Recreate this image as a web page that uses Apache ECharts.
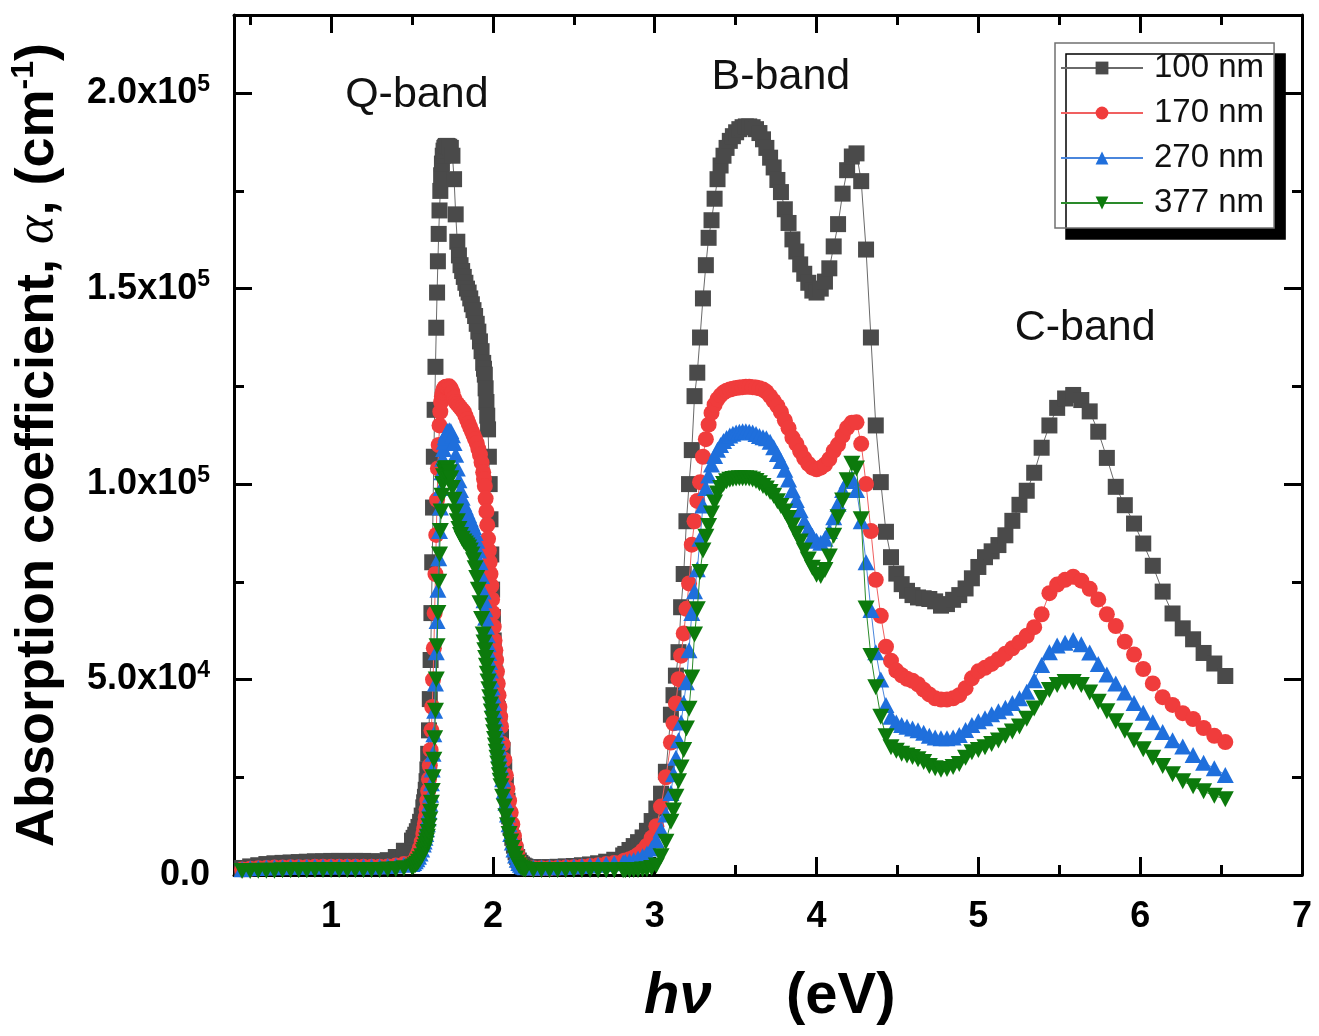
<!DOCTYPE html>
<html>
<head>
<meta charset="utf-8">
<script src="https://cdn.jsdelivr.net/npm/echarts@6/dist/echarts.min.js"></script>
<style>
  html, body { margin: 0; padding: 0; background: #fff; }
  #chart { width: 1319px; height: 1036px; }
</style>
</head>
<body>
<div id="chart"></div>
<script>
// Photon energy hν (eV), shared by all four films
const energy = [
  0.45,0.50,0.55,0.60,0.65,0.70,0.75,0.80,0.85,0.90,0.95,1.00,1.05,1.10,1.15,1.20,1.25,1.30,1.35,1.40,1.45,
  1.50,1.51,1.52,1.53,1.54,1.55,1.56,1.57,
  1.575,1.580,1.585,1.590,1.595,1.600,1.605,1.610,1.615,1.620,1.625,1.630,1.635,1.640,1.645,1.650,1.655,1.660,1.665,1.670,1.675,1.680,1.685,1.690,1.695,1.700,1.705,1.710,1.715,1.720,
  1.73,1.74,1.75,1.76,1.77,1.78,1.79,1.80,1.81,1.82,1.83,1.84,1.85,1.86,1.87,1.88,1.89,1.90,1.91,1.92,1.93,1.94,
  1.945,1.950,1.955,1.960,1.965,1.970,1.975,1.980,1.985,1.990,1.995,2.000,2.005,2.010,2.015,2.020,2.025,2.030,2.035,2.040,2.045,2.050,
  2.06,2.07,2.08,2.09,2.10,2.11,2.12,2.13,2.14,2.15,2.16,2.17,2.18,2.19,2.20,
  2.25,2.30,2.35,2.40,2.45,2.50,2.55,2.60,2.65,2.70,2.75,
  2.805,2.818,2.844,2.870,2.897,2.925,2.952,2.981,3.010,3.039,3.069,3.100,
  3.116,3.131,3.147,3.163,3.179,3.196,3.212,3.229,3.246,3.263,
  3.280,3.298,3.316,3.333,3.351,3.370,3.388,3.407,3.425,3.444,
  3.464,3.483,3.503,3.523,3.543,3.563,3.584,3.605,3.626,3.647,
  3.669,3.690,3.713,3.735,3.758,3.780,3.804,3.827,3.851,3.875,
  3.899,3.924,3.949,3.974,4.000,4.026,4.052,4.079,4.106,4.133,
  4.161,4.189,4.218,4.247,4.276,4.306,4.336,4.366,4.397,4.429,
  4.460,4.493,4.526,4.559,4.593,4.627,4.662,4.697,4.733,4.769,
  4.806,4.844,4.882,4.921,4.960,5.000,5.041,5.082,5.124,5.167,
  5.210,5.254,5.299,5.345,5.391,5.439,5.487,5.536,5.586,5.636,
  5.688,5.741,5.794,5.849,5.905,5.962,6.019,6.078,6.139,6.200,
  6.263,6.327,6.392,6.458,6.526
];

// Absorption coefficient, in units of 10^3 cm^-1
const alpha100 = [
  1.8,2.2,2.5,2.8,3.0,3.1,3.2,3.3,3.4,3.5,3.5,3.6,3.6,3.6,3.6,3.6,3.5,3.5,3.8,4.6,6.2,
  8.8,9.5,10.3,11.2,12.3,13.6,15.2,17.3,
  18.6,20,21.8,24,27,31,37,45,55,67,80,94,107,119,130,140,149,157,164,170,175,179,182,184,185.3,186,186.3,186.5,186.5,186.5,
  186.3,186,184,178,169,162,158.5,156,154.5,153,151.5,150,149,147.5,146,144.5,143,141,139,136.5,134,131,
  129.5,128,124.5,121,117.5,114,107,100,91,82,73,66,60,55.5,51.5,48,45,42.5,40.3,38.5,36.8,35.3,
  32,27.5,23,19,15,12,9.5,7.5,5.8,4.6,3.7,3.1,2.7,2.4,2.2,
  2.0,2.0,2.0,2.1,2.2,2.3,2.5,2.7,3.0,3.4,3.9,
  5.0,5.4,6.4,7.4,8.4,9.6,11.3,13.8,17,20.8,26.4,41,
  46,51,57,68.5,77,90.5,100,108.7,122.5,128.5,
  137.5,147.5,156,163,167.5,173,178,181.5,184,186,
  187.8,189,190,190.8,191.3,191.5,191.5,191.3,190.8,189.8,
  188.2,186,183.5,181,177.8,174.7,170.3,166.8,162.6,159.5,
  156.2,153.8,151.5,149.5,149,150,151.8,155.2,160.8,166.5,
  174.3,180.3,183.8,184.6,177.5,160,137.5,115,100.5,87.8,
  81.3,77.1,74.4,72.7,71.6,71,70.8,70.6,70,68.9,
  69.3,70.4,71.6,73.3,75.9,78.8,81.3,82.8,84.4,86.9,
  90.6,94.7,98.3,102.9,109.3,115,119.5,121.9,122.8,121.5,
  118.6,113.4,106.7,99.3,94.6,89.9,84.8,79.1,72.5,66.9,
  63.1,60.3,56.8,54.1,50.9
];

const alpha170 = [
  1.4,1.6,1.7,1.8,1.9,1.9,2.0,2.0,2.0,2.1,2.1,2.1,2.1,2.1,2.1,2.1,2.1,2.1,2.2,2.4,2.8,
  3.0,3.4,4.0,4.8,5.8,7.0,8.5,10.5,
  11.8,13.2,14.8,16.8,19,21.5,24.5,28,32,37,43,50,58,67,77,87,96,104,110,115,118.5,121,122.5,123.5,124.2,124.6,124.8,124.9,124.9,124.9,
  125,124.5,123.5,122,121,120.5,120,119.5,119,118.5,117.5,116.5,115.5,114.5,113.5,112.5,111.5,110.5,109,107.5,105.5,103,
  101.3,99.5,96.3,93,89.5,86,83,80,77,74,70.5,67,63.5,60,57.5,55,52,49,46,43,40.5,38,
  33.5,29.5,25.5,22,19,16,13,10,7.5,5.5,4,3,2.4,2.0,1.8,
  1.7,1.7,1.7,1.8,1.9,2.0,2.1,2.3,2.5,2.8,3.1,
  3.5,3.7,4.0,4.5,5.2,6.2,7.5,9.5,12.5,17.5,25,33.9,
  38.8,43.9,50.1,56.1,61.8,68.1,74.6,84.5,90.5,95.7,
  100.5,107,111.5,115.2,118.2,120.3,121.7,122.7,123.4,123.9,
  124.2,124.4,124.6,124.7,124.8,124.9,124.9,124.8,124.7,124.5,
  124.2,123.6,122.5,121.3,120,118.4,116.3,114.3,111.9,110.3,
  108.4,106.6,105.2,104.2,103.8,104.2,105.0,106.4,108.5,110.1,
  112.4,114.4,115.7,115.8,110.3,100,88,75.5,66.3,58.4,
  54.8,52.3,51.1,50.2,49.7,48.8,47.4,46.2,45.2,44.9,
  44.9,45.2,46.0,47.8,50.3,52.1,53.0,54.0,55.2,56.6,
  58.0,59.5,61.2,63.4,66.7,72.1,74.3,75.5,76.3,75.3,
  73.2,70.5,66.7,63.7,59.7,56.4,52.7,49.0,45.5,43.5,
  41.4,39.9,37.6,35.6,34.0
];

const alpha270 = [
  1.5,1.7,1.8,1.9,2.0,2.0,2.1,2.1,2.1,2.2,2.2,2.2,2.2,2.2,2.2,2.2,2.2,2.2,2.3,2.4,2.6,
  2.8,3.1,3.5,4.0,4.7,5.5,6.5,7.8,
  8.6,9.5,10.5,11.7,13,14.5,16.2,18.2,20.5,23.5,27,31,36,42,49,57,65,73,81,88,94,99,103,106.5,109,110.8,112,112.8,113.3,113.6,
  113.8,113.6,112.5,110.5,107.5,104,101,98.5,96.5,95,94,93,92,91,90,89,87.5,85.5,83,80,76.5,72.5,
  70.3,68,65.8,63.5,61.3,59,56.8,54.5,52.3,50,48,46,44,42,40,38,36.3,34.5,32.8,31,29.3,27.5,
  24.5,21.5,18.5,15.5,13,10.5,8.3,6.5,5.0,3.9,3.1,2.6,2.3,2.1,2.0,
  1.9,1.9,2.0,2.0,2.1,2.2,2.3,2.4,2.6,2.8,3.0,
  3.2,3.3,3.5,3.8,4.2,4.8,5.5,6.8,8.8,11.5,15.5,21,
  25.8,30,34.5,39,44,49.3,57.5,67,72.6,78.2,
  86,94.5,99,102.2,105,107.2,108.8,110,111,111.8,
  112.4,112.9,113.2,113.4,113.5,113.5,113.4,113.2,112.8,112.3,
  112,111.7,110.8,109.4,107.7,105.9,103.7,101.2,98.4,95.9,
  93.3,90.5,88.5,86.8,85.5,85,86,88,91.5,95,
  98.5,100.8,101.5,98.5,90.5,80,67.8,57,50,43.5,
  40.5,39,38.4,37.9,37.5,37,36.4,35.6,35.2,35,
  35,35.2,35.8,37.1,38.4,39.3,40.1,41.1,41.9,42.8,
  44,45.2,46.9,49.8,53.7,57,58.7,59.4,60.1,59,
  56.9,54,51.3,49,46.7,44,41.5,39.1,36.6,34.5,
  32.9,30.7,28.7,27.3,25.6
];

const alpha377 = [
  1.0,1.0,1.1,1.1,1.1,1.2,1.2,1.2,1.2,1.3,1.3,1.3,1.3,1.3,1.3,1.3,1.3,1.3,1.4,1.5,1.7,
  2.0,2.2,2.5,2.9,3.4,4.0,4.8,5.8,
  6.4,7.1,7.9,8.8,9.8,11,12.5,14.2,16.2,18.5,21.5,25,29.5,35,42,50,58.5,67,75,82,88,93,97,100,102,103.2,103.8,104,104,104,
  103,101.5,99,96,93,90.5,88.5,87,86,85.3,84.8,84.3,83.8,83,82,80.5,78.5,76,73,69.5,65.5,61.5,
  59.5,57.5,55.5,53.5,51.5,49.5,47.5,45.5,43.6,41.8,40,38.2,36.5,34.8,33.1,31.5,30,28.5,27,25.5,24.1,22.7,
  20,17.5,15,12.7,10.5,8.6,6.9,5.4,4.2,3.2,2.5,2.0,1.7,1.5,1.4,
  1.3,1.3,1.3,1.3,1.3,1.3,1.3,1.3,1.2,1.2,1.2,
  1.2,1.2,1.2,1.3,1.3,1.4,1.5,1.8,2.4,4.8,8.5,13.6,
  16.5,20,24,27.5,32,37.5,42.5,50.5,61.5,68,
  77.5,83,86.5,89.3,92.5,95.3,97.6,99,100,100.7,
  101.1,101.3,101.4,101.5,101.5,101.5,101.4,101.2,100.8,100.2,
  99.5,98.9,98.0,97,95.6,94.4,93,91.3,89.4,87.3,
  85.3,83,80.7,78.6,76.8,76.5,78,81.5,86.8,91.5,
  95.8,101,105.2,104,91,68.2,56,48,40.5,35.5,
  32.7,31.8,31.0,30.6,30.2,29.6,28.9,27.9,27.3,26.9,
  27.1,27.6,28.4,30.0,31.4,32.0,32.7,33.5,34.4,35.6,
  36.7,38,40,42.6,45.3,47.3,48.6,49.4,49.4,48.6,
  46.7,44.3,41.9,39.3,36.9,34.5,32.2,30,27.9,25.8,
  24.0,22.7,21.4,20.3,19.4
];

const filmNames = ['100 nm', '170 nm', '270 nm', '377 nm'];
const filmValues = [alpha100, alpha170, alpha270, alpha377];

const xMajorTicks = [1, 2, 3, 4, 5, 6, 7];
const xMinorTicks = [0.5, 1.5, 2.5, 3.5, 4.5, 5.5, 6.5];
const yMajorTicks = [0, 50000, 100000, 150000, 200000];
const yMinorTicks = [25000, 75000, 125000, 175000];

const bandLabels = [
  { text: 'Q-band', x: 1.53, y: 199500 },
  { text: 'B-band', x: 3.78, y: 204000 },
  { text: 'C-band', x: 5.66, y: 139800 }
];

const SANS = '"Liberation Sans", Arial, Helvetica, sans-serif';
const colors = ['#4a4a4a', '#f03c3c', '#1f6fdc', '#0c7a0c'];
const lineColors = ['#6a6a6a', '#f06060', '#4a86dc', '#2a8a2a'];
const symbols = ['rect', 'circle', 'triangle', 'path://M0,0 L20,0 L10,17 Z'];
const symbolSizes = [16, 16, [17, 16], [17, 16]];

const chart = echarts.init(document.getElementById('chart'), null, { renderer: 'canvas' });

function yTickLabel(v) {
  if (v === 0) return '{n|0.0}';
  const exp = Math.floor(Math.log10(v) + 1e-9);
  const mant = (v / Math.pow(10, exp)).toFixed(1);
  return '{n|' + mant + 'x10}{s|' + exp + '}';
}

const tickFont = { fontSize: 36, fontWeight: 'bold', fontFamily: SANS, color: '#000' };

function xAxisDef(position, ticks, len, showLine, showLabel) {
  return {
    type: 'value', gridIndex: 0, position: position, min: 0.4, max: 7,
    axisLine: { show: showLine, onZero: false, lineStyle: { color: '#000', width: 3 } },
    axisTick: { show: true, inside: true, length: len, customValues: ticks, lineStyle: { color: '#000', width: 3 } },
    axisLabel: showLabel ? Object.assign({ show: true, margin: 24, customValues: ticks }, tickFont) : { show: false },
    splitLine: { show: false }, minorTick: { show: false }
  };
}

function yAxisDef(position, ticks, len, showLine, showLabel) {
  return {
    type: 'value', gridIndex: 0, position: position, min: 0, max: 220000,
    axisLine: { show: showLine, onZero: false, lineStyle: { color: '#000', width: 3 } },
    axisTick: { show: true, inside: true, length: len, customValues: ticks, lineStyle: { color: '#000', width: 3 } },
    axisLabel: showLabel ? {
      show: true, margin: 24, customValues: ticks, formatter: yTickLabel,
      rich: {
        n: { fontSize: 36, fontWeight: 'bold', fontFamily: SANS, color: '#000', lineHeight: 40 },
        s: { fontSize: 23, fontWeight: 'bold', fontFamily: SANS, color: '#000', verticalAlign: 'top', lineHeight: 22 }
      }
    } : { show: false },
    splitLine: { show: false }, minorTick: { show: false }
  };
}

const yLeft = yAxisDef('left', yMajorTicks, 18, true, true);
yLeft.name = '{a|Absorption coefficient, }{g|α}{a|, (cm}{s|-1}{a|)}';
yLeft.nameLocation = 'middle';
yLeft.nameRotate = 90;
yLeft.nameGap = 166;
yLeft.nameTextStyle = {
  rich: {
    a: { fontSize: 54, fontWeight: 'bold', fontFamily: SANS, color: '#000', lineHeight: 60 },
    g: { fontSize: 54, fontStyle: 'italic', fontFamily: '"Liberation Serif", "Times New Roman", serif', color: '#000', lineHeight: 60 },
    s: { fontSize: 32, fontWeight: 'bold', fontFamily: SANS, color: '#000', verticalAlign: 'top', lineHeight: 32 }
  }
};

const series = filmNames.map((name, k) => ({
  type: 'line',
  name: name,
  xAxisIndex: 0,
  yAxisIndex: 0,
  data: energy.map((e, i) => [e, filmValues[k][i] * 1000]),
  symbol: symbols[k],
  symbolSize: symbolSizes[k],
  showSymbol: true,
  showAllSymbol: true,
  itemStyle: { color: colors[k] },
  lineStyle: { color: lineColors[k], width: 1 },
  emphasis: { disabled: true },
  z: 2 + k
}));

chart.setOption({
  animation: false,
  backgroundColor: '#fff',
  grid: { left: 232, right: 17, top: 15, bottom: 161, containLabel: false },
  xAxis: [
    xAxisDef('bottom', xMajorTicks, 18, true, true),
    xAxisDef('bottom', xMinorTicks, 10, false, false),
    xAxisDef('top', xMajorTicks, 18, true, false),
    xAxisDef('top', xMinorTicks, 10, false, false)
  ],
  yAxis: [
    yLeft,
    yAxisDef('left', yMinorTicks, 10, false, false),
    yAxisDef('right', yMajorTicks, 18, true, false),
    yAxisDef('right', yMinorTicks, 10, false, false)
  ],
  legend: {
    orient: 'vertical',
    left: 1055, top: 43,
    itemWidth: 82, itemHeight: 16, itemGap: 12,
    padding: [8.5, 10, 8.5, 5],
    backgroundColor: '#fff',
    borderColor: '#707070', borderWidth: 1.5,
    shadowColor: '#000', shadowBlur: 0, shadowOffsetX: 11, shadowOffsetY: 11,
    textStyle: { fontSize: 33, lineHeight: 33, fontFamily: SANS, color: '#111', padding: [0, 0, 0, 6] },
    data: filmNames
  },
  series: series
});

// Axis title along the energy axis and the band annotations
const g = [];
g.push({
  type: 'text', left: 644, top: 968,
  style: { text: 'hν', fontSize: 58, fontWeight: 'bold', fontStyle: 'italic', fontFamily: SANS, fill: '#000' }
});
g.push({
  type: 'text', left: 786, top: 968,
  style: { text: '(eV)', fontSize: 58, fontWeight: 'bold', fontFamily: SANS, fill: '#000' }
});
bandLabels.forEach(b => {
  const p = chart.convertToPixel({ xAxisIndex: 0, yAxisIndex: 0 }, [b.x, b.y]);
  g.push({
    type: 'text', x: p[0], y: p[1],
    style: { text: b.text, fontSize: 43, fontFamily: SANS, fill: '#111', align: 'center', verticalAlign: 'middle' }
  });
});
chart.setOption({ graphic: g });
</script>
</body>
</html>
